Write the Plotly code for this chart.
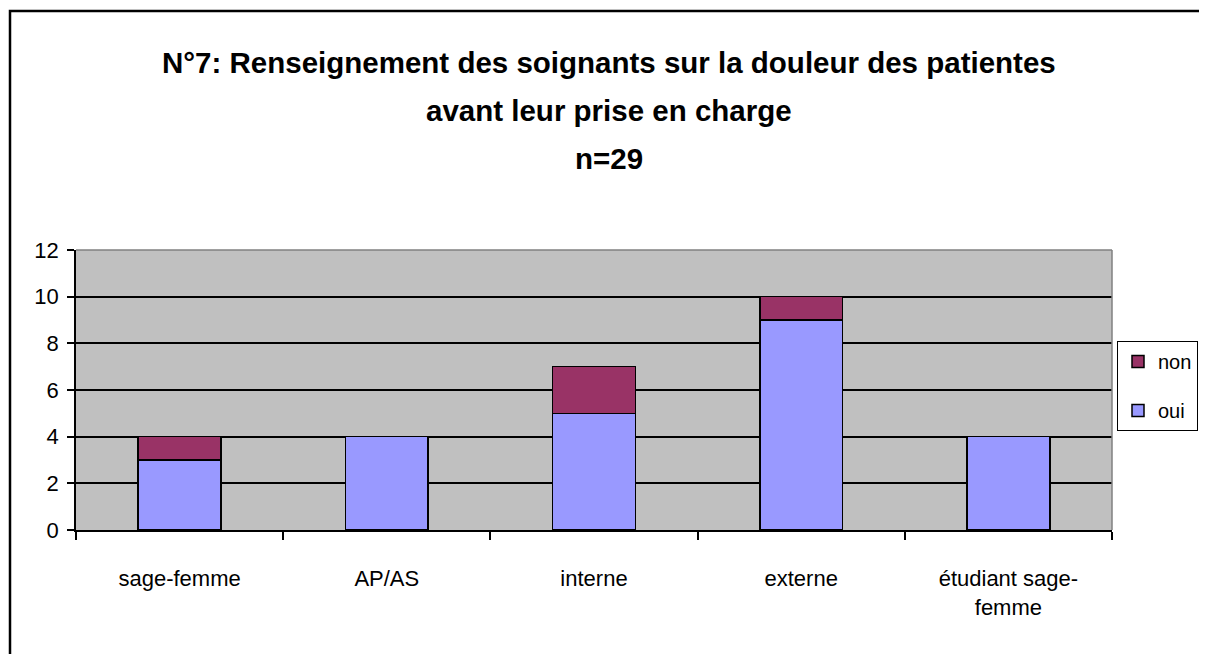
import plotly.graph_objects as go

categories = ["sage-femme", "AP/AS", "interne", "externe", "étudiant sage-<br>femme"]
oui = [3, 4, 5, 9, 4]
non = [1, 0, 2, 1, 0]
y_ticks = [0, 2, 4, 6, 8, 10, 12]
title_lines = [
    "N°7: Renseignement des soignants sur la douleur des patientes",
    "avant leur prise en charge",
    "n=29",
]

FONT = "Liberation Sans, Arial, sans-serif"
OFF = 8  # browser default body margin
W, H = 1207 - OFF, 654 - OFF
L, T = 76 - OFF, 250 - OFF
PW, PH = 1036, 280
R, B = W - L - PW, H - T - PH

fig = go.Figure()
fig.add_trace(go.Bar(x=categories, y=oui, name="oui", legendgroup="oui", legendrank=2,
                     marker=dict(color="#9999FF", line=dict(color="black", width=1.5))))
fig.add_trace(go.Bar(x=categories, y=non, name="non", legendgroup="non", legendrank=1,
                     marker=dict(color="#993366", line=dict(color="black", width=1.5))))

def px_x(px):
    return (px - OFF - L) / PW

def px_y(py):
    return 1 - (py - OFF - T) / PH

annotations = []
for line, ypx in zip(title_lines, [62, 110, 158]):
    annotations.append(dict(text="<b>" + line + "</b>", x=px_x(609), y=px_y(ypx),
                            xref="paper", yref="paper", showarrow=False,
                            xanchor="center", yanchor="middle",
                            font=dict(family=FONT, size=29.5, color="black")))

fig.update_layout(
    width=W, height=H,
    margin=dict(l=L, r=R, t=T, b=B, autoexpand=False),
    paper_bgcolor="white",
    plot_bgcolor="#C0C0C0",
    barmode="stack",
    bargap=0.6,
    font=dict(family=FONT, size=22, color="black"),
    showlegend=True,
    legend=dict(x=px_x(1117), y=px_y(386), xanchor="left", yanchor="middle",
                traceorder="grouped",
                bordercolor="black", borderwidth=1,
                bgcolor="white", font=dict(family=FONT, size=20), itemwidth=30,
                tracegroupgap=20),
    annotations=annotations,
    shapes=[
        dict(type="rect", xref="paper", yref="paper",
             x0=px_x(10), x1=px_x(1260),
             y0=px_y(720), y1=px_y(11),
             line=dict(color="black", width=2.5), fillcolor="rgba(0,0,0,0)", layer="below"),
        dict(type="line", xref="paper", yref="paper", x0=0, x1=1, y0=1, y1=1,
             line=dict(color="#808080", width=1.5)),
        dict(type="line", xref="paper", yref="paper", x0=1, x1=1, y0=0, y1=1,
             line=dict(color="#808080", width=1.5)),
    ],
    xaxis=dict(showline=True, linecolor="black", linewidth=1.5,
               ticks="outside", ticklen=8, tickcolor="black", tickwidth=1.5,
               tickson="boundaries", showgrid=False,
               tickfont=dict(family=FONT, size=22), ticklabelstandoff=28),
    yaxis=dict(range=[0, 12], tickvals=y_ticks, showline=True, linecolor="black", linewidth=1.5,
               ticks="outside", ticklen=7, tickcolor="black", tickwidth=1.5,
               showgrid=True, gridcolor="black", gridwidth=1.5, zeroline=False,
               tickfont=dict(family=FONT, size=22), ticklabelstandoff=4),
)

fig.write_html("out.html")
